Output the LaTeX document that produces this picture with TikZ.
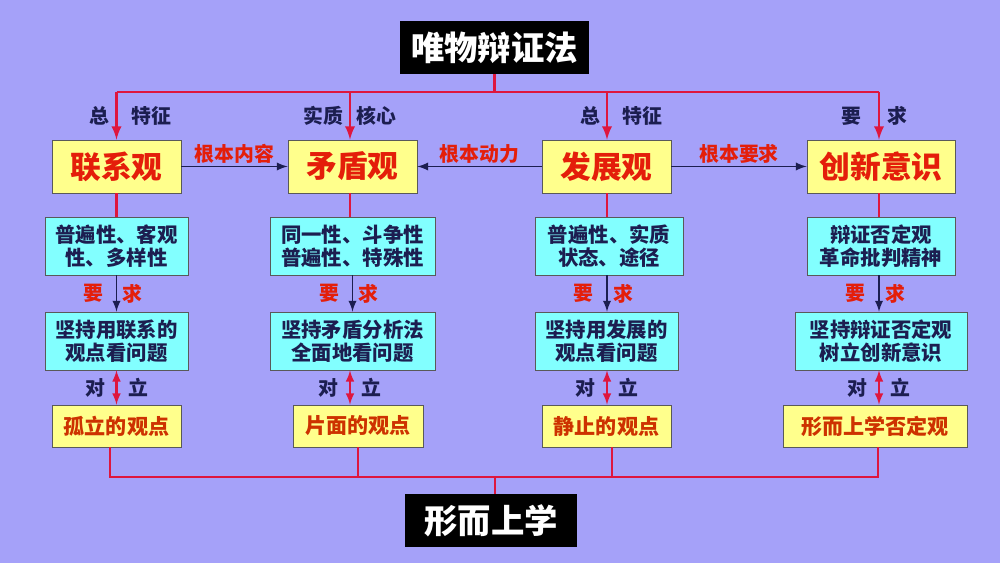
\documentclass[tikz,border=0pt]{standalone}
\usepackage{fontspec}
\setmainfont{Noto Sans CJK SC}
\usetikzlibrary{arrows,positioning}
\definecolor{bgviolet}{RGB}{165,161,249}
\definecolor{boxyellow}{RGB}{255,255,140}
\definecolor{boxcyan}{RGB}{130,255,255}
\definecolor{linered}{RGB}{222,22,62}
\definecolor{textred}{RGB}{228,30,10}
\definecolor{textorange}{RGB}{205,50,0}
\definecolor{textnavy}{RGB}{28,30,80}
\tikzset{%
	headbox/.style  = {fill=black, text=white, inner sep=0pt, minimum width=3.78cm, minimum height=1.06cm, font=\bfseries\fontsize{19}{21}\selectfont},
	viewbox/.style  = {draw=black!65, fill=boxyellow, text=textred, inner sep=0pt, minimum height=1.06cm, font=\bfseries\fontsize{17.5}{20}\selectfont},
	infobox/.style  = {draw=black!65, fill=boxcyan, text=textnavy, inner sep=0pt, align=center, minimum height=1.16cm, font=\bfseries\fontsize{11.6}{13}\selectfont},
	wrongbox/.style = {draw=black!65, fill=boxyellow, text=textorange, inner sep=0pt, minimum height=0.84cm, font=\bfseries\fontsize{12}{14}\selectfont},
	redline/.style  = {draw=linered, line width=1.6pt},
	redarrow/.style = {redline, -latex},
	botharrow/.style= {draw=linered, line width=1.2pt, latex-latex},
	navyarrow/.style= {draw=textnavy, line width=1.1pt, -latex},
	tag/.style      = {text=textnavy, inner sep=3pt, font=\bfseries\fontsize{11.3}{13}\selectfont},
	redtag/.style   = {tag, text=textred},
}
\begin{document}
\begin{tikzpicture}[x=0.02cm,y=-0.02cm]
	\fill[bgviolet] (0,0) rectangle (1000,563);
	\useasboundingbox (0,0) rectangle (1000,563);
	
	% top and bottom
	\node[headbox] (top) at (494.5,47.5) {唯物辩证法};
	\node[headbox, minimum width=3.44cm] (bottom) at (491,520.5) {形而上学};
	
	% first row
	\node[viewbox, minimum width=2.58cm] (lianxi) at (116.5,166.5) {联系观};
	\node[viewbox, minimum width=2.58cm] (maodun) at (352.5,166.5) {矛盾观};
	\node[viewbox, minimum width=2.58cm] (fazhan) at (606.5,166.5) {发展观};
	\node[viewbox, minimum width=2.96cm] (chuangxin) at (881,166.5) {创新意识};
	
	% second row
	\node[infobox, minimum width=2.86cm] (info1) at (116.5,246) {普遍性、客观\\性、多样性};
	\node[infobox, minimum width=3.30cm] (info2) at (352.5,246) {同一性、斗争性\\普遍性、特殊性};
	\node[infobox, minimum width=2.96cm] (info3) at (609,246) {普遍性、实质\\状态、途径};
	\node[infobox, minimum width=2.96cm] (info4) at (881,246) {辩证否定观\\革命批判精神};
	
	% third row
	\node[infobox, minimum width=2.86cm] (keep1) at (116.5,341) {坚持用联系的\\观点看问题};
	\node[infobox, minimum width=3.30cm] (keep2) at (352.5,341) {坚持矛盾分析法\\全面地看问题};
	\node[infobox, minimum width=2.86cm] (keep3) at (606.5,341) {坚持用发展的\\观点看问题};
	\node[infobox, minimum width=3.44cm] (keep4) at (881,341) {坚持辩证否定观\\树立创新意识};
	
	% fourth row
	\node[wrongbox, minimum width=2.58cm] (wrong1) at (116.5,426) {孤立的观点};
	\node[wrongbox, minimum width=2.60cm] (wrong2) at (358,426) {片面的观点};
	\node[wrongbox, minimum width=2.58cm] (wrong3) at (606.5,426) {静止的观点};
	\node[wrongbox, minimum width=3.68cm] (wrong4) at (875,426) {形而上学否定观};
	
	% from the top
	\coordinate (t1) at (116.5,92);
	\coordinate (t2) at (350,92);
	\coordinate (t3) at (607,92);
	\coordinate (t4) at (879,92);
	\draw[redline] (top.south) -- (top.south |- t1);
	\draw[redline] (t1) -- (t4);
	\draw[redarrow] (t1) -- (lianxi.north) node[pos=0.5, tag, left] {总} node[pos=0.5, tag, right=5pt] {特征};
	\draw[redarrow] (t2) -- (t2 |- maodun.north) node[pos=0.5, tag, left] {实质} node[pos=0.5, tag, right] {核心};
	\draw[redarrow] (t3) -- (t3 |- fazhan.north) node[pos=0.5, tag, left] {总} node[pos=0.5, tag, right=5pt] {特征};
	\draw[redarrow] (t4) -- (t4 |- chuangxin.north) node[pos=0.5, tag, left=6pt] {要} node[pos=0.5, tag, right=1pt] {求};
	
	% between the views
	\draw[navyarrow] (lianxi) -- (maodun) node[midway, redtag, above=-2pt] {根本内容};
	\draw[navyarrow] (fazhan) -- (maodun) node[midway, redtag, above=-2pt] {根本动力};
	\draw[navyarrow] (fazhan) -- (chuangxin) node[midway, redtag, above=-2pt] {根本要求};
	
	% down the columns
	\draw[redline] (lianxi) -- (info1);
	\draw[redline] (maodun.south -| t2) -- (info2.north -| t2);
	\draw[redline] (fazhan.south -| t3) -- (info3.north -| t3);
	\draw[redline] (chuangxin.south -| t4) -- (info4.north -| t4);
	
	\draw[navyarrow] (info1) -- (keep1) node[midway, redtag, left=4pt] {要} node[midway, redtag, right] {求};
	\draw[navyarrow] (info2) -- (keep2) node[midway, redtag, left=4pt] {要} node[midway, redtag, right] {求};
	\draw[navyarrow] (info3.south -| t3) -- (keep3.north -| t3) node[midway, redtag, left=4pt] {要} node[midway, redtag, right] {求};
	\draw[navyarrow] (info4.south -| t4) -- (keep4.north -| t4) node[midway, redtag, left=4pt] {要} node[midway, redtag, right] {求};
	
	\draw[botharrow] (keep1) -- (wrong1) node[midway, tag, left=3pt] {对} node[midway, tag, right=3pt] {立};
	\draw[botharrow] (keep2.south -| t2) -- (wrong2.north -| t2) node[midway, tag, left=3pt] {对} node[midway, tag, right=3pt] {立};
	\draw[botharrow] (keep3.south -| t3) -- (wrong3.north -| t3) node[midway, tag, left=3pt] {对} node[midway, tag, right=3pt] {立};
	\draw[botharrow] (keep4.south -| t4) -- (wrong4.north -| t4) node[midway, tag, left=3pt] {对} node[midway, tag, right=3pt] {立};
	
	% to the bottom
	\coordinate (b1) at (110,477);
	\coordinate (b2) at (358,477);
	\coordinate (b3) at (612,477);
	\coordinate (b4) at (878,477);
	\draw[redline] (wrong1.south -| b1) -- (b1) -- (b4) -- (wrong4.south -| b4);
	\draw[redline] (wrong2.south -| b2) -- (b2);
	\draw[redline] (wrong3.south -| b3) -- (b3);
	\draw[redline] (bottom.north -| 495,0) -- (495,477);
\end{tikzpicture}
\end{document}
